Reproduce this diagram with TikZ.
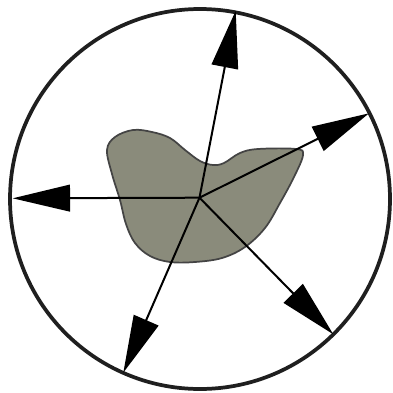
\documentclass[tikz,border=0pt]{standalone}
\usepackage{xcolor}
\usepackage{tikz}
\usetikzlibrary{arrows.meta}
\definecolor{blobfill}{HTML}{8A8B7B}
\definecolor{blobline}{HTML}{444444}

\begin{document}
\begin{tikzpicture}[x=0.75pt,y=-0.75pt,rim/.style={draw=black!88,line width=2.8pt},ray/.style={draw=black,line width=1.5pt,-{Triangle[length=43pt,width=20pt]}},blob/.style={draw=blobline,fill=blobfill,line width=1.3pt}]
\useasboundingbox (0,0) rectangle (393,393);
\draw[rim] (200,199) circle[radius=190];

\draw[blob] plot[smooth cycle,tension=0.6] coordinates {(107,150) (115,137) (133,130) (152,132) (170,138) (185,150) (200,161) (213,165) (224,163) (240,153) (258,149) (296,149) (303,155) (294,177) (280,203) (265,228) (245,247) (222,258) (195,262) (170,262) (150,256) (135,243) (126,224) (120,200) (112,174)};

\coordinate (src) at (199.5,197.7);
\coordinate (tN) at (235.7,10.7);
\coordinate (tNE) at (369,113.3);
\coordinate (tW) at (12.7,198.3);
\coordinate (tSE) at (333.3,334.3);
\coordinate (tS) at (123.3,372.7);

\draw[ray] (src) -- (tN);
\draw[ray] (src) -- (tNE);
\draw[ray] (src) -- (tW);
\draw[ray] (src) -- (tSE);
\draw[ray] (src) -- (tS);

\end{tikzpicture}
\end{document}
